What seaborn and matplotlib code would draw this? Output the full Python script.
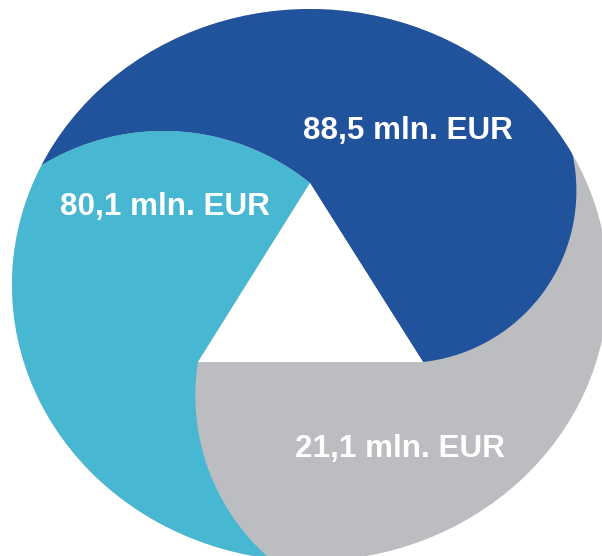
import numpy as np
import matplotlib.pyplot as plt
import seaborn as sns
from matplotlib.patches import Ellipse, Polygon

# values shown on the three segments (dark blue, light blue, grey)
segments = ["top", "left", "bottom"]
values = [88.5, 80.1, 21.1]
labels = [f"{v:.1f}".replace(".", ",") + " mln. EUR" for v in values]

sns.set_theme(style="white")
plt.rcParams["font.family"] = ["Liberation Sans", "DejaVu Sans"]
colors = sns.color_palette(["#21529C", "#48B8D2", "#BCBDC0"])

# layout in pixel units (decorative pinwheel, not scaled by the values)
W, H = 602, 556
center, rx, ry = (310, 285), 298, 276
tri_top, tri_bl, tri_br = (310, 183), (198, 362), (423, 362)
label_pos = [(408, 139), (165, 215), (400, 457)]


def arc(p0, pm, p1, ext=0.25, n=120):
    # circular arc through three points, running a bit past p1
    (x1, y1), (x2, y2), (x3, y3) = p0, pm, p1
    d = 2 * (x1 * (y2 - y3) + x2 * (y3 - y1) + x3 * (y1 - y2))
    s1, s2, s3 = x1**2 + y1**2, x2**2 + y2**2, x3**2 + y3**2
    ux = (s1 * (y2 - y3) + s2 * (y3 - y1) + s3 * (y1 - y2)) / d
    uy = (s1 * (x3 - x2) + s2 * (x1 - x3) + s3 * (x2 - x1)) / d
    r = np.hypot(x1 - ux, y1 - uy)
    a0 = np.arctan2(y1 - uy, x1 - ux)
    am = np.arctan2(y2 - uy, x2 - ux)
    a1 = np.arctan2(y3 - uy, x3 - ux)
    span = (a1 - a0) % (2 * np.pi)
    if (am - a0) % (2 * np.pi) > span:
        span -= 2 * np.pi
    t = np.linspace(a0, a0 + span * (1 + ext), n)
    return np.column_stack([ux + r * np.cos(t), uy + r * np.sin(t)])


curve_a = arc(tri_top, (160, 131), (42, 165))
curve_b = arc(tri_br, (547, 287), (572, 152))
curve_c = arc(tri_bl, (200, 440), (267, 556))

fig = plt.figure(figsize=(W / 100, H / 100), dpi=100)
ax = fig.add_axes([0, 0, 1, 1])
ax.set_xlim(0, W)
ax.set_ylim(H, 0)
ax.axis("off")

outline = Ellipse(center, 2 * rx, 2 * ry, facecolor=colors[2], edgecolor="none")
ax.add_patch(outline)

ae = curve_a[-1]
dark_pts = np.vstack([curve_a, [[-60, ae[1]], [-60, -60], [W + 60, -60]], curve_b[::-1]])
light_pts = np.vstack([curve_a, [[-60, ae[1]], [-60, H + 100], [curve_c[-1][0], H + 100]],
                       curve_c[::-1]])

for pts, col in [(dark_pts, colors[0]), (light_pts, colors[1])]:
    p = Polygon(pts, closed=True, facecolor=col, edgecolor="none")
    ax.add_patch(p)
    p.set_clip_path(outline)

ax.add_patch(Polygon([tri_top, tri_bl, tri_br], closed=True, facecolor="white", edgecolor="none"))

for (x, y), txt in zip(label_pos, labels):
    ax.text(x, y, txt, color="white", fontsize=22.6, fontweight="bold",
            ha="center", va="baseline")

fig.savefig("out.png", dpi=100)
